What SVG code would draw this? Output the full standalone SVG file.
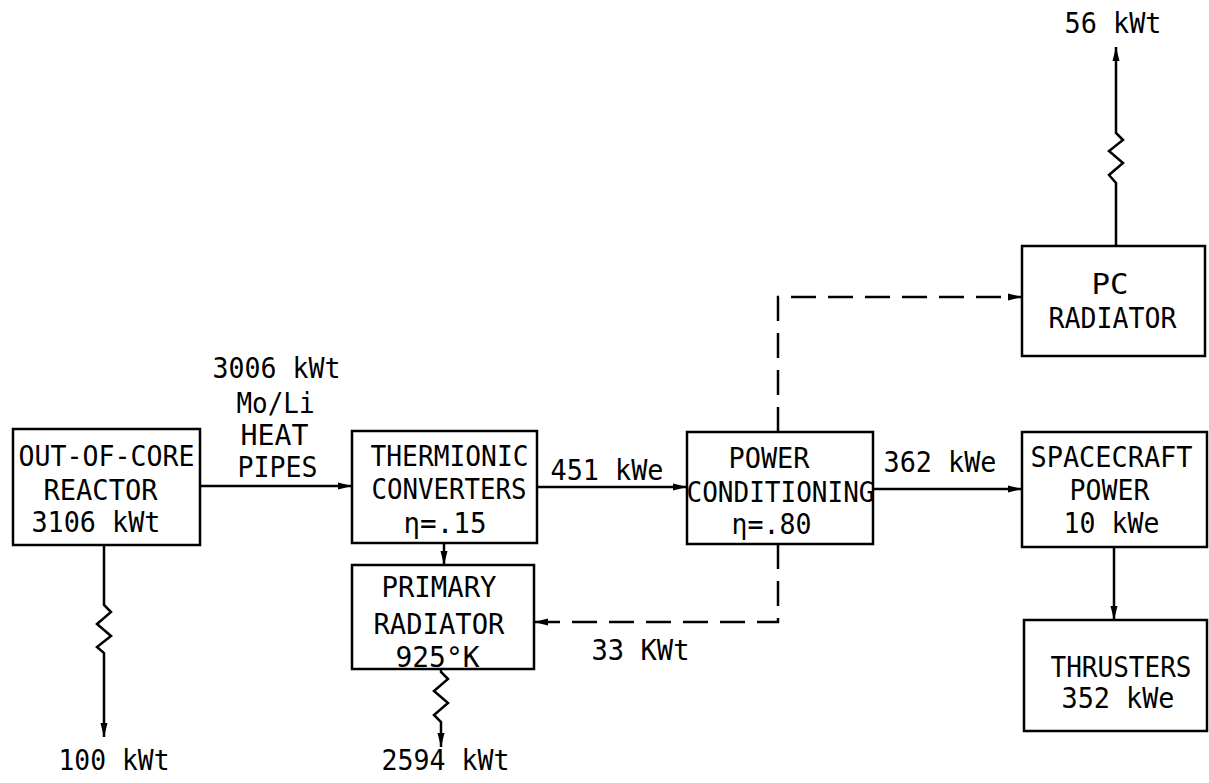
<svg xmlns="http://www.w3.org/2000/svg" width="1209" height="783" viewBox="0 0 1209 783">
<style>
  .box { fill: none; stroke: #000; stroke-width: 2.5; }
  .ln { fill: none; stroke: #000; stroke-width: 2.5; }
  .dash { fill: none; stroke: #000; stroke-width: 2.5; stroke-dasharray: 25 12; }
  text { font-family: "DejaVu Sans Mono", "Liberation Mono", monospace; font-size: 29px; fill: #000; }
</style>
<defs>
  <marker id="ah" markerUnits="userSpaceOnUse" markerWidth="16" markerHeight="10" refX="14" refY="5" orient="auto">
    <path d="M0,1.5 L14,5 L0,8.5 z" fill="#000"/>
  </marker>
</defs>
<rect width="1209" height="783" fill="#fff"/>

<g id="connectors">
  <line class="ln" x1="200" y1="486" x2="352" y2="486" marker-end="url(#ah)"/>
  <line class="ln" x1="537" y1="487" x2="687" y2="487" marker-end="url(#ah)"/>
  <line class="ln" x1="873" y1="489" x2="1022" y2="489" marker-end="url(#ah)"/>
  <line class="ln" x1="1114" y1="547" x2="1114" y2="620" marker-end="url(#ah)"/>
  <line class="ln" x1="444" y1="543" x2="444" y2="565" marker-end="url(#ah)"/>
  <path class="dash" d="M778,432 L778,297 L1022,297" marker-end="url(#ah)"/>
  <path class="dash" d="M778,544 L778,622 L534,622" marker-end="url(#ah)"/>
  <path class="ln" d="M1116,246 L1116,183 L1109,175 L1123,163 L1109,151 L1123,140 L1116,133 L1116,47" marker-end="url(#ah)"/>
  <path class="ln" d="M104,545 L104,605 L111,612 L97,624 L111,636 L97,647 L104,653 L104,737" marker-end="url(#ah)"/>
  <path class="ln" d="M441,669 L441,672 L448,679 L434,691 L448,703 L434,715 L441,722 L441,747" marker-end="url(#ah)"/>
</g>

<g id="labels">
  <text x="212.5" y="378" textLength="128" lengthAdjust="spacingAndGlyphs">3006 kWt</text>
  <text x="236.5" y="413" textLength="78" lengthAdjust="spacingAndGlyphs">Mo/Li</text>
  <text x="240.5" y="445" textLength="68" lengthAdjust="spacingAndGlyphs">HEAT</text>
  <text x="237.5" y="477" textLength="80" lengthAdjust="spacingAndGlyphs">PIPES</text>
  <text x="550.5" y="480" textLength="113" lengthAdjust="spacingAndGlyphs">451 kWe</text>
  <text x="883.5" y="472" textLength="113" lengthAdjust="spacingAndGlyphs">362 kWe</text>
  <text x="591.5" y="660" textLength="98" lengthAdjust="spacingAndGlyphs">33 KWt</text>
  <text x="1064.5" y="33" textLength="97" lengthAdjust="spacingAndGlyphs">56 kWt</text>
  <text x="58.5" y="770" textLength="111" lengthAdjust="spacingAndGlyphs">100 kWt</text>
  <text x="381.5" y="770" textLength="128" lengthAdjust="spacingAndGlyphs">2594 kWt</text>
</g>

<g id="reactor">
  <rect class="box" x="13" y="429" width="187" height="116"/>
  <text x="18.5" y="466" textLength="176" lengthAdjust="spacingAndGlyphs">OUT-OF-CORE</text>
  <text x="43.5" y="500" textLength="114" lengthAdjust="spacingAndGlyphs">REACTOR</text>
  <text x="31.5" y="532" textLength="129" lengthAdjust="spacingAndGlyphs">3106 kWt</text>
</g>

<g id="thermionic">
  <rect class="box" x="352" y="431" width="185" height="112"/>
  <text x="370.5" y="466" textLength="158" lengthAdjust="spacingAndGlyphs">THERMIONIC</text>
  <text x="371.5" y="499" textLength="155" lengthAdjust="spacingAndGlyphs">CONVERTERS</text>
  <text x="403.5" y="533" textLength="83" lengthAdjust="spacingAndGlyphs">η=.15</text>
</g>

<g id="primary-radiator">
  <rect class="box" x="352" y="565" width="182" height="104"/>
  <text x="381.5" y="597" textLength="115" lengthAdjust="spacingAndGlyphs">PRIMARY</text>
  <text x="373.5" y="634" textLength="131" lengthAdjust="spacingAndGlyphs">RADIATOR</text>
  <text x="395.5" y="667" textLength="84" lengthAdjust="spacingAndGlyphs">925°K</text>
</g>

<g id="power-conditioning">
  <rect class="box" x="687" y="432" width="186" height="112"/>
  <text x="728.5" y="468" textLength="81" lengthAdjust="spacingAndGlyphs">POWER</text>
  <text x="686.5" y="502" textLength="188" lengthAdjust="spacingAndGlyphs">CONDITIONING</text>
  <text x="731.5" y="534" textLength="80" lengthAdjust="spacingAndGlyphs">η=.80</text>
</g>

<g id="pc-radiator">
  <rect class="box" x="1022" y="246" width="183" height="110"/>
  <text x="1091.5" y="294" textLength="37" lengthAdjust="spacingAndGlyphs">PC</text>
  <text x="1048.5" y="328" textLength="128" lengthAdjust="spacingAndGlyphs">RADIATOR</text>
</g>

<g id="spacecraft-power">
  <rect class="box" x="1022" y="432" width="185" height="115"/>
  <text x="1030.5" y="467" textLength="162" lengthAdjust="spacingAndGlyphs">SPACECRAFT</text>
  <text x="1069.5" y="500" textLength="80" lengthAdjust="spacingAndGlyphs">POWER</text>
  <text x="1063.5" y="533" textLength="96" lengthAdjust="spacingAndGlyphs">10 kWe</text>
</g>

<g id="thrusters">
  <rect class="box" x="1024" y="620" width="183" height="111"/>
  <text x="1050.5" y="677" textLength="141" lengthAdjust="spacingAndGlyphs">THRUSTERS</text>
  <text x="1061.5" y="708" textLength="113" lengthAdjust="spacingAndGlyphs">352 kWe</text>
</g>
</svg>
